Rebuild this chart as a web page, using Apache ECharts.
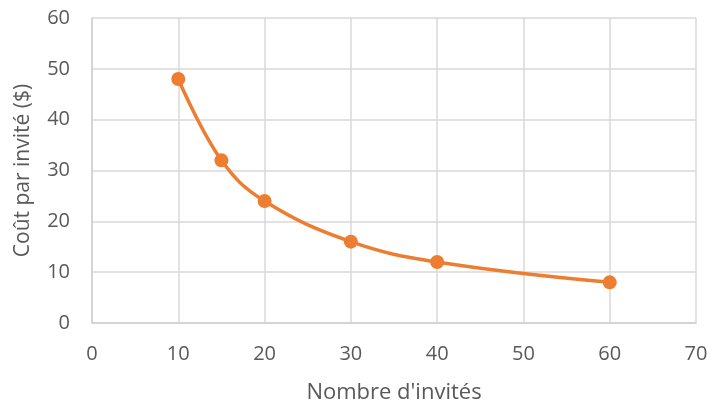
<!DOCTYPE html>
<html><head><meta charset="utf-8">
<script src="https://cdn.jsdelivr.net/npm/echarts@6/dist/echarts.min.js"></script>
<style>html,body{margin:0;padding:0;background:#fff}#c{width:718px;height:404px}</style>
</head><body><div id="c"></div>
<script>
const guests = [10, 15, 20, 30, 40, 60];
const costPerGuest = [48, 32, 24, 16, 12, 8];
const xTitle = "Nombre d'invités";
const yTitle = "Coût par invité ($)";

const chart = echarts.init(document.getElementById('c'));
const font = "'Open Sans', 'Noto Sans', sans-serif";
chart.setOption({
  animation: false,
  grid: {left: 92, right: 22, top: 18, bottom: 81, outerBoundsMode: 'none', containLabel: false},
  xAxis: {
    type: 'value', min: 0, max: 70, interval: 10,
    name: xTitle, nameLocation: 'middle', nameGap: 59,
    nameTextStyle: {color: '#595959', fontSize: 22, fontFamily: font},
    axisLine: {show: true, lineStyle: {color: '#d0d0d0', width: 1.5}},
    axisTick: {show: false},
    axisLabel: {color: '#595959', fontSize: 20, fontFamily: font, margin: 21},
    splitLine: {show: true, lineStyle: {color: '#d9d9d9', width: 1.5}}
  },
  yAxis: {
    type: 'value', min: 0, max: 60, interval: 10,
    name: yTitle, nameLocation: 'middle', nameGap: 58, nameRotate: 90,
    nameTextStyle: {color: '#595959', fontSize: 21, fontFamily: font},
    axisLine: {show: true, lineStyle: {color: '#d0d0d0', width: 1.5}},
    axisTick: {show: false},
    axisLabel: {color: '#595959', fontSize: 20, fontFamily: font, margin: 22},
    splitLine: {show: true, lineStyle: {color: '#d9d9d9', width: 1.5}}
  },
  series: [{
    type: 'line',
    data: guests.map((g, i) => [g, costPerGuest[i]]),
    smooth: 0.4,
    symbol: 'circle', symbolSize: 14,
    lineStyle: {color: '#ED7D31', width: 3.5},
    itemStyle: {color: '#ED7D31'}
  }]
});
</script></body></html>
